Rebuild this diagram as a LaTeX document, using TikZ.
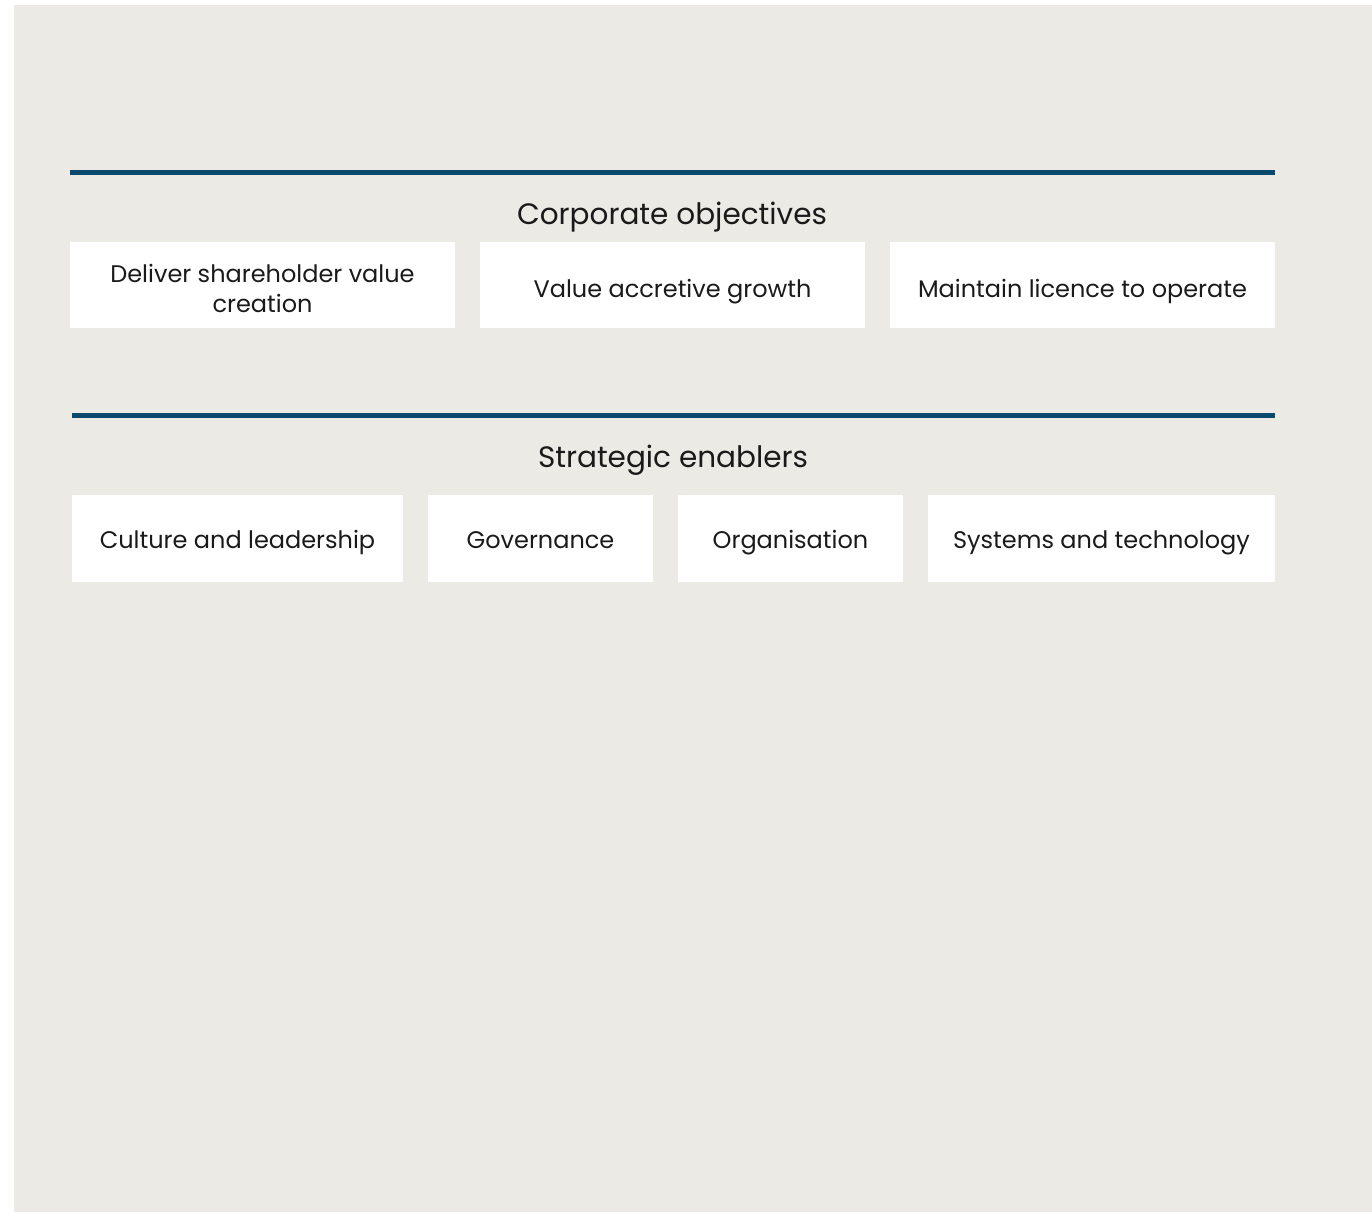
\documentclass[tikz,border=0pt]{standalone}
\usepackage{fontspec}
\setmainfont{Poppins}
\definecolor{pagebg}{HTML}{ECEAE5}
\definecolor{rulecol}{HTML}{0B4A6F}
\definecolor{inkcol}{HTML}{1A1A1A}
\begin{document}
\begin{tikzpicture}[x=1pt,y=-1pt,
  cell/.style={fill=white,draw=none,inner sep=0pt,align=center,text=inkcol,
    text depth=1pt,font=\fontsize{24}{30}\selectfont},
  objcell/.style={cell,minimum width=385,minimum height=86,text height=25pt},
  encell/.style={cell,minimum height=87,text height=20pt},
  heading/.style={inner sep=0pt,anchor=base,text=inkcol,
    font=\fontsize{29.5}{34}\selectfont},
  bar/.style={draw=rulecol,line width=5pt}]
% canvas and page background
\useasboundingbox (0,0) rectangle (1372,1212);
\fill[pagebg] (14,5) rectangle (1372,1212);
% corporate objectives
\coordinate (r1a) at (70,172.5);
\coordinate (r1b) at (1275,172.5);
\draw[bar] (r1a) -- (r1b);
\node[heading] (h1) at (672,224) {Corporate objectives};
\node[objcell,text height=55pt] (o1) at (262.5,285) {Deliver shareholder value\\creation};
\node[objcell] (o2) at (672.5,285) {Value accretive growth};
\node[objcell] (o3) at (1082.5,285) {Maintain licence to operate};
% strategic enablers
\coordinate (r2a) at (72,415);
\coordinate (r2b) at (1275,415);
\draw[bar] (r2a) -- (r2b);
\node[heading] (h2) at (673,467) {Strategic enablers};
\node[encell,minimum width=331] (e1) at (237.5,538.5) {Culture and leadership};
\node[encell,minimum width=225] (e2) at (540.5,538.5) {Governance};
\node[encell,minimum width=225] (e3) at (790.5,538.5) {Organisation};
\node[encell,minimum width=347] (e4) at (1101.5,538.5) {Systems and technology};
\end{tikzpicture}
\end{document}
